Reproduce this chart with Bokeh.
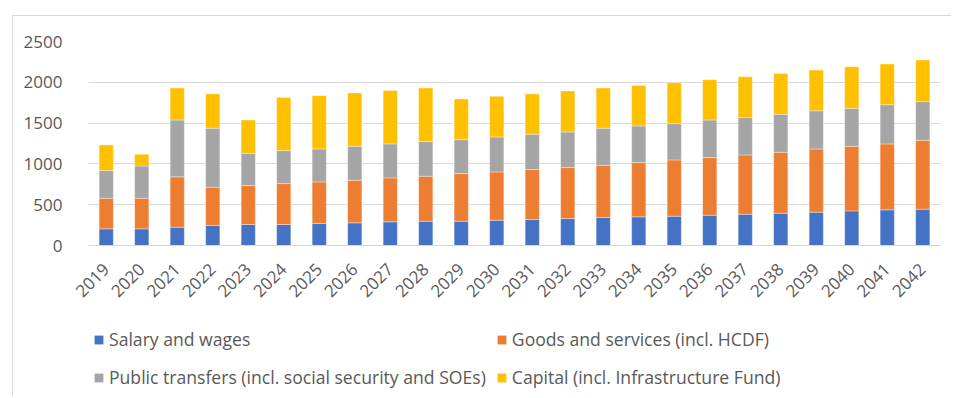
import math
from bokeh.plotting import figure
from bokeh.layouts import column
from bokeh.models import Range1d, FactorRange, Legend, LegendItem
from bokeh.embed import file_html
from bokeh.resources import INLINE

years = [str(y) for y in range(2019, 2043)]

salary = [204, 204, 224, 245, 257, 257, 269, 278, 290, 298, 298, 310,
          318, 330, 343, 351, 359, 371, 383, 396, 408, 424, 437, 445]
goods = [375, 375, 617, 469, 477, 502, 510, 522, 538, 551, 583, 592,
         612, 625, 640, 665, 690, 706, 727, 746, 775, 792, 808, 844]
transfers = [339, 396, 697, 722, 396, 404, 404, 416, 417, 424, 416, 428,
             433, 436, 453, 449, 444, 461, 457, 465, 469, 465, 481, 474]
capital = [314, 143, 392, 421, 408, 652, 653, 653, 656, 657, 498, 498,
           494, 502, 494, 497, 502, 494, 502, 502, 498, 510, 498, 510]

series_names = ["Salary and wages", "Goods and services (incl. HCDF)",
                "Public transfers (incl. social security and SOEs)",
                "Capital (incl. Infrastructure Fund)"]
colors = ["#4472C4", "#ED7D31", "#A5A5A5", "#FFC000"]
y_ticks = [0, 500, 1000, 1500, 2000, 2500]

FONT = "Open Sans"
TXT = "#595959"
GRID = "#D9D9D9"

# ---- main chart ----
p = figure(x_range=FactorRange(*years), y_range=Range1d(0, 2500),
           width=938, height=305, output_backend="svg", toolbar_location=None,
           min_border_left=75, min_border_right=11, min_border_top=25,
           min_border_bottom=76)
p.outline_line_color = None
p.x_range.range_padding = 0

data = {"year": years, "s": salary, "g": goods, "t": transfers, "c": capital}
rs = p.vbar_stack(["s", "g", "t", "c"], x="year", width=0.4, source=data,
                  color=colors, line_color="white", line_width=0.6, line_alpha=0.6)

p.yaxis.ticker = y_ticks
p.yaxis.axis_line_color = None
p.yaxis.major_tick_line_color = None
p.yaxis.minor_tick_line_color = None
p.yaxis.major_label_standoff = 20
p.yaxis.major_label_text_font = FONT
p.yaxis.major_label_text_font_size = "17px"
p.yaxis.major_label_text_color = TXT

p.xaxis.axis_line_color = GRID
p.xaxis.axis_line_width = 1
p.xaxis.major_tick_line_color = None
p.xaxis.minor_tick_line_color = None
p.xaxis.major_label_orientation = math.pi / 4
p.xaxis.major_label_standoff = 15
p.xaxis.major_label_text_font = FONT
p.xaxis.major_label_text_font_size = "17px"
p.xaxis.major_label_text_color = TXT

p.xgrid.grid_line_color = None
p.ygrid.grid_line_color = GRID
p.ygrid.grid_line_width = 1

# ---- legend strip (zero-height placeholder renderers, nothing visible) ----
q = figure(width=938, height=75, output_backend="svg", toolbar_location=None,
           x_range=Range1d(0, 1), y_range=Range1d(0, 1),
           x_axis_location=None, y_axis_location=None, min_border=0)
q.outline_line_color = None
q.xgrid.visible = False
q.ygrid.visible = False
dummies = [q.vbar(x=[0.5], top=[0], bottom=[0], width=0.4, fill_color=c, line_color=None)
           for c in colors]

items = [LegendItem(label=n, renderers=[r]) for n, r in zip(series_names, dummies)]
legend = Legend(items=items, location=(5, 5), orientation="horizontal", ncols=2,
                glyph_width=11, glyph_height=11, label_standoff=5, spacing=10,
                label_height=28,
                label_text_font=FONT, label_text_font_size="17.6px",
                label_text_color=TXT, background_fill_alpha=0, border_line_color=None,
                padding=0, margin=0)
q.add_layout(legend, "center")

layout = column(p, q, margin=(15, 0, 0, 12), spacing=0,
                styles={"border-left": "1px solid #D9D9D9",
                        "border-top": "1px solid #D9D9D9"})

open("out.html", "w").write(file_html(layout, INLINE))
